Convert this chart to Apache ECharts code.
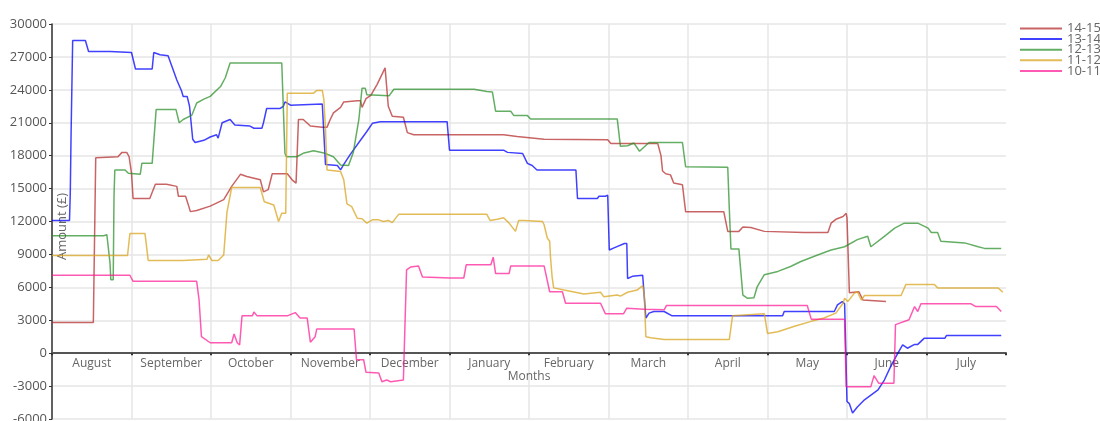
<!DOCTYPE html>
<html>
<head>
<meta charset="utf-8">
<script src="https://cdn.jsdelivr.net/npm/echarts@6/dist/echarts.min.js"></script>
<style>
  html, body { margin: 0; padding: 0; background: #fff; }
  #chart { width: 1100px; height: 421px; }
</style>
</head>
<body>
<div id="chart"></div>
<script>
// x = months since start of August (0..12), y = amount in £
const months = ["August", "September", "October", "November", "December", "January",
  "February", "March", "April", "May", "June", "July"];
const seriesNames = ["14-15", "13-14", "12-13", "11-12", "10-11"];
const seriesColors = ["rgba(178,34,34,0.7)", "rgba(0,0,255,0.75)", "rgba(34,139,34,0.7)",
  "rgba(218,165,32,0.75)", "rgba(255,20,147,0.7)"];
const yTicks = { min: -6000, max: 30000, step: 3000 };

const s1415 = [[0, 2800], [0.52, 2800], [0.55, 17800], [0.83, 17900], [0.88, 18300], [0.94, 18300],
  [0.97, 17900], [1.0, 16400], [1.02, 14100], [1.23, 14100], [1.3, 15400], [1.44, 15400],
  [1.57, 15200], [1.59, 14300], [1.68, 14300], [1.72, 13400], [1.74, 12900], [1.82, 13000],
  [1.99, 13400], [2.16, 14000], [2.26, 15200], [2.37, 16300], [2.45, 16100], [2.62, 15800],
  [2.66, 14700], [2.72, 14900], [2.77, 16350], [2.96, 16350], [3.02, 15800], [3.07, 15500],
  [3.1, 21300], [3.16, 21300], [3.25, 20700], [3.4, 20600], [3.46, 20600], [3.5, 21300],
  [3.54, 21900], [3.63, 22400], [3.67, 22900], [3.84, 23000], [3.88, 23000], [3.9, 22400],
  [3.95, 23200], [4.01, 23500], [4.09, 24500], [4.19, 26000], [4.23, 22500], [4.28, 21600],
  [4.42, 21500], [4.47, 20100], [4.55, 19900], [5.68, 19900], [5.85, 19750], [6.19, 19500],
  [6.99, 19450], [7.03, 19100], [7.62, 19100], [7.66, 18000], [7.68, 16600], [7.72, 16350],
  [7.78, 16250], [7.82, 15500], [7.93, 15350], [7.97, 12900], [8.45, 12900], [8.5, 11100],
  [8.64, 11100], [8.69, 11500], [8.79, 11450], [8.96, 11100], [9.46, 11000], [9.76, 11000],
  [9.8, 11850], [9.86, 12200], [9.95, 12450], [9.99, 12750], [10.0, 12300], [10.03, 5500],
  [10.05, 5400], [10.15, 5600], [10.2, 4850], [10.49, 4700]];

const s1314 = [[0, 12100], [0.22, 12100], [0.23, 14600], [0.24, 20000], [0.26, 28500], [0.42, 28500],
  [0.46, 27500], [0.73, 27500], [1.0, 27400], [1.05, 25900], [1.26, 25900], [1.28, 27400],
  [1.36, 27200], [1.46, 27100], [1.51, 26100], [1.57, 24900], [1.63, 23900], [1.65, 23400],
  [1.7, 23400], [1.73, 22500], [1.77, 19500], [1.8, 19200], [1.91, 19400], [1.99, 19700],
  [2.07, 19900], [2.09, 19600], [2.14, 21000], [2.24, 21300], [2.3, 20800], [2.49, 20700],
  [2.54, 20500], [2.64, 20500], [2.66, 21000], [2.7, 22300], [2.87, 22300], [2.91, 22500],
  [2.93, 22900], [3.0, 22600], [3.4, 22700], [3.44, 17200], [3.59, 17100], [3.63, 16700],
  [3.67, 17200], [3.75, 18100], [3.88, 19400], [3.96, 20200], [4.03, 20950], [4.13, 21100],
  [4.97, 21100], [5.0, 18500], [5.68, 18500], [5.73, 18300], [5.92, 18200], [5.98, 17300],
  [6.04, 17100], [6.1, 16700], [6.59, 16700], [6.61, 14100], [6.86, 14100], [6.88, 14300],
  [6.96, 14300], [6.99, 14400], [7.01, 9400], [7.07, 9600], [7.2, 10000], [7.23, 10000],
  [7.24, 6800], [7.3, 7000], [7.43, 7100], [7.45, 7000], [7.47, 3200], [7.51, 3650],
  [7.57, 3800], [7.7, 3800], [7.8, 3400], [9.19, 3400], [9.21, 3800], [9.84, 3800],
  [9.88, 4400], [9.94, 4700], [9.97, 4500], [10.0, -4400], [10.03, -4600], [10.07, -5450],
  [10.13, -4900], [10.22, -4250], [10.39, -3350], [10.47, -2450], [10.55, -1200], [10.64, 0],
  [10.7, 750], [10.76, 450], [10.85, 800], [10.89, 800], [10.97, 1350], [11.23, 1350],
  [11.25, 1600], [11.94, 1600]];

const s1213 = [[0, 10700], [0.65, 10700], [0.69, 10800], [0.73, 8200], [0.74, 6700], [0.77, 6700],
  [0.78, 14300], [0.79, 16700], [0.92, 16700], [0.96, 16400], [1.11, 16300], [1.13, 17300],
  [1.26, 17300], [1.31, 22200], [1.56, 22200], [1.6, 21000], [1.65, 21300], [1.76, 21700],
  [1.82, 22800], [1.91, 23150], [1.99, 23400], [2.12, 24300], [2.18, 25100], [2.24, 26450],
  [2.89, 26450], [2.93, 18200], [2.95, 17900], [3.08, 17900], [3.17, 18250], [3.29, 18450],
  [3.42, 18250], [3.54, 17900], [3.63, 17150], [3.73, 17100], [3.79, 18300], [3.86, 21300],
  [3.9, 24150], [3.94, 24150], [3.96, 23550], [4.24, 23450], [4.3, 24050], [5.31, 24050],
  [5.47, 23850], [5.54, 23800], [5.58, 22050], [5.77, 22050], [5.81, 21650], [5.98, 21650],
  [6.02, 21350], [7.11, 21350], [7.15, 18850], [7.24, 18900], [7.32, 19150], [7.39, 18400],
  [7.51, 19200], [7.93, 19200], [7.97, 17000], [8.5, 16950], [8.52, 13100], [8.54, 9500],
  [8.64, 9500], [8.69, 5300], [8.75, 5000], [8.83, 5050], [8.87, 6050], [8.96, 7150],
  [9.13, 7450], [9.29, 7900], [9.42, 8350], [9.63, 8950], [9.8, 9400], [9.97, 9700],
  [10.13, 10350], [10.26, 10650], [10.3, 9700], [10.47, 10650], [10.6, 11400], [10.72, 11850],
  [10.89, 11850], [11.02, 11400], [11.06, 11000], [11.14, 11000], [11.18, 10200], [11.48, 10050],
  [11.65, 9700], [11.73, 9550], [11.94, 9550]];

const s1112 = [[0, 8900], [0.95, 8900], [0.98, 10900], [1.17, 10900], [1.21, 8450], [1.65, 8450],
  [1.67, 8550], [1.95, 8550], [1.97, 8950], [2.01, 8450], [2.09, 8450], [2.16, 8950],
  [2.2, 12800], [2.26, 15100], [2.62, 15100], [2.67, 13800], [2.79, 13500], [2.85, 12000],
  [2.89, 12750], [2.94, 12750], [2.96, 23700], [3.29, 23700], [3.33, 23950], [3.4, 23950],
  [3.42, 23100], [3.44, 20400], [3.46, 16700], [3.63, 16550], [3.67, 15800], [3.71, 13600],
  [3.77, 13350], [3.84, 12300], [3.9, 12250], [3.96, 11850], [4.03, 12150], [4.11, 12150],
  [4.17, 12000], [4.23, 12100], [4.28, 11900], [4.36, 12650], [5.47, 12650], [5.51, 12100],
  [5.6, 12200], [5.68, 12350], [5.75, 11850], [5.83, 11100], [5.87, 12100], [5.94, 12100],
  [6.17, 12000], [6.19, 11700], [6.23, 10500], [6.26, 10200], [6.27, 8800], [6.29, 7000],
  [6.31, 5950], [6.44, 5750], [6.69, 5400], [6.9, 5550], [6.94, 5150], [7.11, 5300],
  [7.15, 5200], [7.24, 5550], [7.36, 5750], [7.43, 6150], [7.45, 5300], [7.47, 1500],
  [7.53, 1400], [7.7, 1250], [8.52, 1250], [8.56, 3400], [8.96, 3600], [9.0, 1800],
  [9.13, 1950], [9.34, 2450], [9.55, 2900], [9.71, 3200], [9.86, 3650], [9.95, 4550],
  [9.97, 5000], [10.01, 4700], [10.09, 5450], [10.13, 5600], [10.18, 4850], [10.22, 5250],
  [10.68, 5250], [10.74, 6250], [11.1, 6250], [11.14, 5950], [11.9, 5950], [11.96, 5550]];

const s1011 = [[0, 7100], [0.98, 7100], [1.02, 6550], [1.82, 6550], [1.85, 4850], [1.88, 1500],
  [1.99, 950], [2.26, 950], [2.29, 1750], [2.33, 950], [2.36, 750], [2.39, 3400], [2.52, 3400],
  [2.54, 3750], [2.58, 3400], [2.96, 3400], [3.06, 3700], [3.12, 3200], [3.21, 3200],
  [3.25, 1000], [3.31, 1500], [3.33, 2200], [3.8, 2200], [3.83, -600], [3.92, -600],
  [3.95, -1750], [4.11, -1800], [4.15, -2600], [4.21, -2450], [4.26, -2600], [4.42, -2450],
  [4.44, -2450], [4.46, 7600], [4.51, 7850], [4.61, 7950], [4.66, 6950], [5.01, 6850],
  [5.18, 6850], [5.21, 8050], [5.52, 8050], [5.55, 8750], [5.58, 7250], [5.75, 7250],
  [5.77, 7950], [6.19, 7950], [6.26, 5600], [6.42, 5600], [6.46, 4550], [6.9, 4550],
  [6.96, 3600], [7.19, 3600], [7.23, 4100], [7.45, 4000], [7.7, 3950], [7.73, 4350],
  [9.5, 4350], [9.55, 3100], [9.97, 3100], [9.99, -3050], [10.3, -3050], [10.34, -2050],
  [10.4, -2750], [10.59, -2750], [10.61, 2600], [10.78, 3050], [10.85, 4250], [10.89, 3800],
  [10.93, 4500], [11.56, 4500], [11.62, 4250], [11.88, 4250], [11.94, 3800]];

const seriesData = [s1415, s1314, s1213, s1112, s1011];

const chart = echarts.init(document.getElementById("chart"));
chart.setOption({
  animation: false,
  textStyle: { fontFamily: "Open Sans" },
  color: seriesColors,
  grid: [
    { left: 52, right: 94, top: 24, bottom: 2, outerBoundsMode: "none", containLabel: false },
    // label-only grid whose bottom edge sits on the zero line of the main grid
    { left: 52, right: 94, top: 24, height: 329.3, outerBoundsMode: "none", containLabel: false }
  ],
  legend: {
    orient: "vertical",
    left: 1020,
    top: 22,
    padding: 0,
    itemGap: -2.4,
    itemWidth: 42,
    itemHeight: 2,
    icon: "rect",
    textStyle: { color: "#666", fontSize: 13 },
    data: seriesNames
  },
  xAxis: [
    {
      type: "value",
      gridIndex: 0,
      min: 0,
      max: 12,
      interval: 1,
      axisLine: { onZero: true, lineStyle: { color: "#555", width: 2 } },
      axisTick: { show: true, length: 2, lineStyle: { color: "#333", width: 2 } },
      axisLabel: { show: false },
      splitLine: { show: true, showMaxLine: false, lineStyle: { color: "#e6e6e6", width: 1.5 } }
    },
    {
      type: "category",
      gridIndex: 1,
      position: "bottom",
      data: months,
      boundaryGap: true,
      axisLine: { show: false, onZero: false },
      axisTick: { show: false },
      splitLine: { show: false },
      axisLabel: { color: "#666", fontSize: 12, margin: 4, interval: 0 },
      name: "Months",
      nameLocation: "middle",
      nameGap: 17,
      nameMoveOverlap: false,
      nameTextStyle: { color: "#666", fontSize: 12 }
    }
  ],
  yAxis: [
    {
      type: "value",
      gridIndex: 0,
      min: yTicks.min,
      max: yTicks.max,
      interval: yTicks.step,
      axisLine: { show: true, lineStyle: { color: "#333", width: 1.5 } },
      axisTick: { show: true, length: 3, lineStyle: { color: "#333" } },
      axisLabel: { color: "#555", fontSize: 13, margin: 5, formatter: (v) => String(v) },
      splitLine: { show: true, lineStyle: { color: "#e6e6e6", width: 1.5 } },
      name: "Amount (£)",
      nameLocation: "middle",
      nameRotate: 90,
      nameGap: -17,
      nameMoveOverlap: false,
      nameTextStyle: { color: "#666", fontSize: 13, padding: [0, 10, 0, 0] }
    },
    { type: "value", gridIndex: 1, show: false }
  ],
  series: seriesNames.map((name, i) => ({
    name: name,
    type: "line",
    xAxisIndex: 0,
    yAxisIndex: 0,
    showSymbol: false,
    symbol: "none",
    lineStyle: { width: 1.5 },
    data: seriesData[i]
  }))
});
</script>
</body>
</html>
